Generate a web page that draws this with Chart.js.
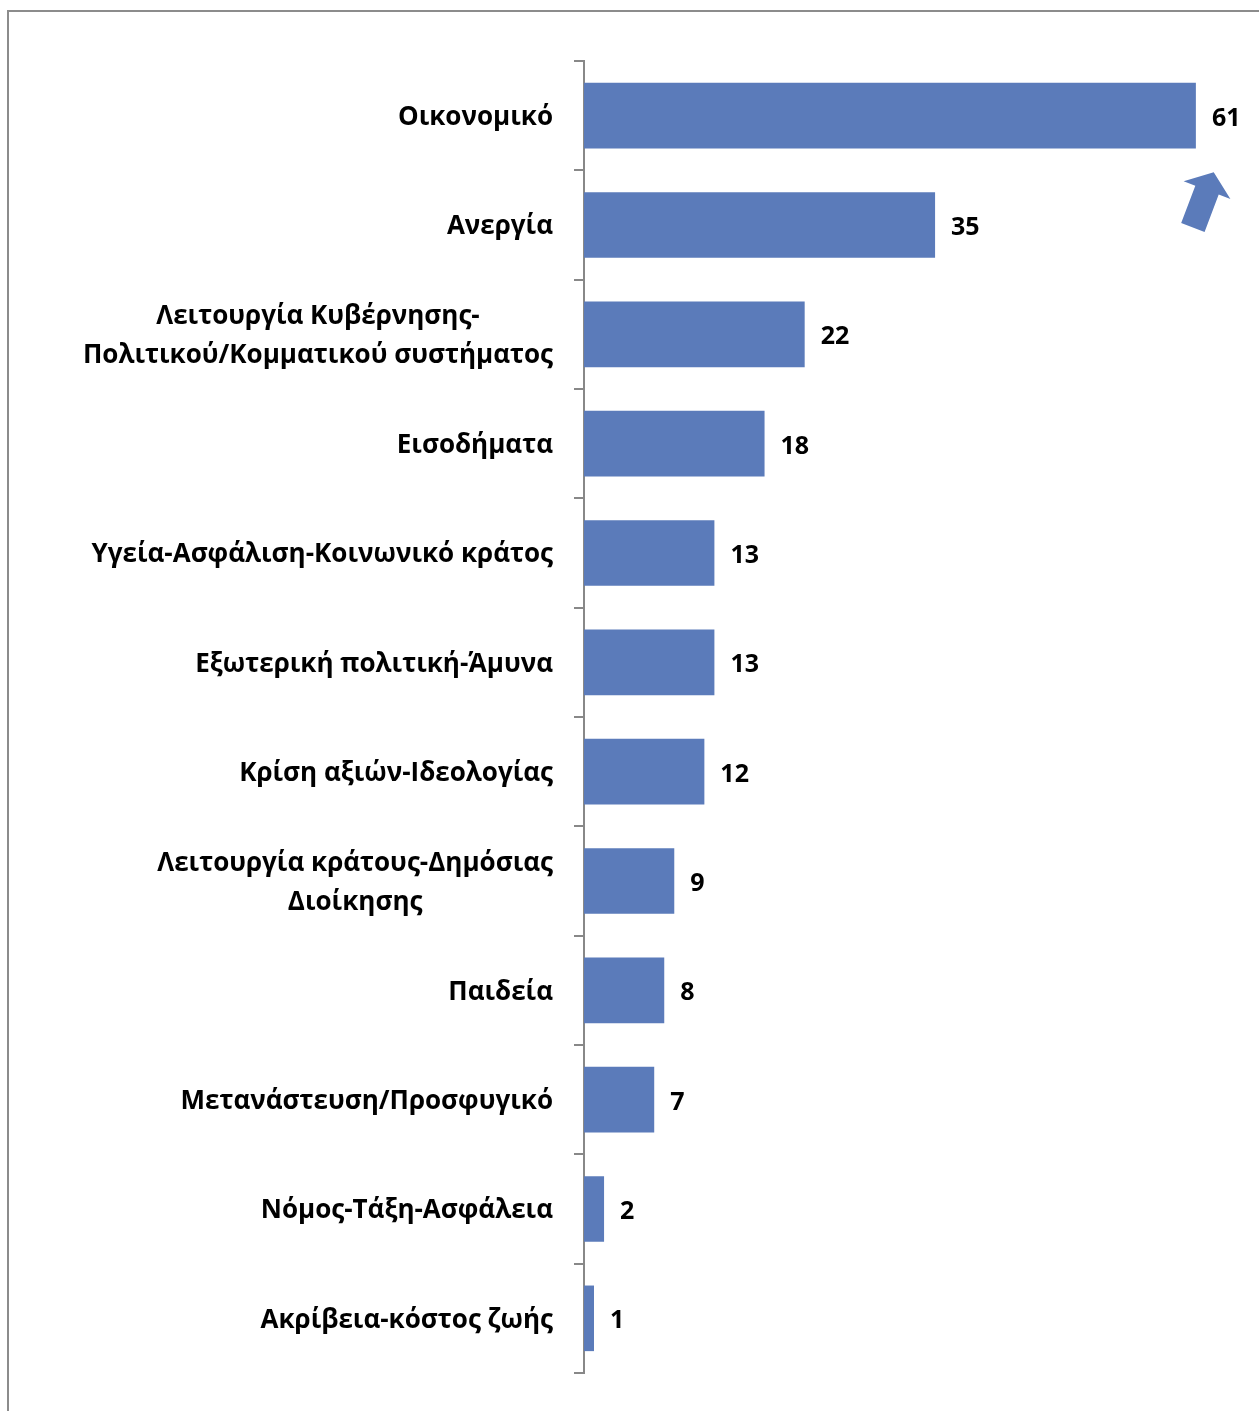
<!DOCTYPE html>
<html>
<head>
<meta charset="utf-8">
<script src="https://cdn.jsdelivr.net/npm/chart.js@4"></script>
<style>
    html, body { margin: 0; padding: 0; background: #fff; }
    #wrap { position: relative; width: 1259px; height: 1411px; overflow: hidden; }
    #frame { position: absolute; left: 7px; top: 10px; width: 1300px; height: 1450px;
             border-top: 2px solid #8c8c8c; border-left: 2px solid #8c8c8c; }
    canvas { position: absolute; left: 0; top: 0; }
</style>
</head>
<body>
<div id="wrap">
    <div id="frame"></div>
    <canvas id="chart" width="1259" height="1411"></canvas>
</div>
<script>
const categories = [
    ['Οικονομικό'],
    ['Ανεργία'],
    ['Λειτουργία Κυβέρνησης-', 'Πολιτικού/Κομματικού συστήματος'],
    ['Εισοδήματα'],
    ['Υγεία-Ασφάλιση-Κοινωνικό κράτος'],
    ['Εξωτερική πολιτική-Άμυνα'],
    ['Κρίση αξιών-Ιδεολογίας'],
    ['Λειτουργία κράτους-Δημόσιας', 'Διοίκησης'],
    ['Παιδεία'],
    ['Μετανάστευση/Προσφυγικό'],
    ['Νόμος-Τάξη-Ασφάλεια'],
    ['Ακρίβεια-κόστος ζωής']
];
const values = [61, 35, 22, 18, 13, 13, 12, 9, 8, 7, 2, 1];

const barColor = '#5b7bba';
const labelFont = 'bold 26px "Open Sans", sans-serif';
const valueFont = 'bold 25px "Open Sans", sans-serif';

// category labels, right edge fixed, extra lines centred under the first
const categoryLabels = {
    id: 'categoryLabels',
    afterDraw(chart) {
        const ctx = chart.ctx;
        const y = chart.scales.y;
        const rightEdge = y.right - 31;
        ctx.save();
        ctx.font = labelFont;
        ctx.fillStyle = '#000';
        ctx.textBaseline = 'middle';
        ctx.textAlign = 'center';
        categories.forEach((lines, i) => {
            const cy = y.getPixelForValue(i) + 2;
            const w = Math.max(...lines.map(l => ctx.measureText(l).width));
            const lh = 39;
            lines.forEach((l, j) => {
                ctx.fillText(l, rightEdge - w / 2, cy + (j - (lines.length - 1) / 2) * lh);
            });
        });
        ctx.restore();
    }
};

// numbers at the end of the bars + the arrow next to the first one
const valueLabels = {
    id: 'valueLabels',
    afterDatasetsDraw(chart) {
        const ctx = chart.ctx;
        const meta = chart.getDatasetMeta(0);
        ctx.save();
        ctx.font = valueFont;
        ctx.fillStyle = '#000';
        ctx.textBaseline = 'middle';
        ctx.textAlign = 'left';
        meta.data.forEach((bar, i) => {
            ctx.fillText(values[i], bar.x + 16, bar.y + 3);
        });

        // up arrow under the top bar's value
        const top = meta.data[0];
        const bx = top.x - 3, by = top.y + top.height / 2 + 79;
        ctx.translate(bx, by);
        ctx.rotate(20.7 * Math.PI / 180);
        ctx.fillStyle = barColor;
        ctx.beginPath();
        ctx.moveTo(-12.5, 0);
        ctx.lineTo(12.5, 0);
        ctx.lineTo(12.5, -40);
        ctx.lineTo(25, -40);
        ctx.lineTo(0, -59);
        ctx.lineTo(-25, -40);
        ctx.lineTo(-12.5, -40);
        ctx.closePath();
        ctx.fill();
        ctx.restore();
    }
};

const ctx = document.getElementById('chart').getContext('2d');
const myChart = new Chart(ctx, {
    type: 'bar',
    data: {
        labels: categories,
        datasets: [{
            data: values,
            backgroundColor: barColor,
            borderWidth: 0,
            barPercentage: 0.6,
            categoryPercentage: 1.0
        }]
    },
    options: {
        indexAxis: 'y',
        responsive: false,
        animation: false,
        layout: {
            padding: { top: 61, bottom: 38, left: 0, right: 23 }
        },
        plugins: {
            legend: { display: false },
            tooltip: { enabled: false }
        },
        scales: {
            x: {
                display: false,
                min: 0,
                max: 65
            },
            y: {
                offset: true,
                afterFit(scale) { scale.width = 584; },
                ticks: { display: false },
                border: { display: true, color: '#888', width: 2 },
                grid: {
                    offset: true,
                    drawOnChartArea: false,
                    drawTicks: true,
                    tickLength: 10,
                    color: '#888',
                    lineWidth: 2
                }
            }
        }
    },
    plugins: [categoryLabels, valueLabels]
});
</script>
</body>
</html>
